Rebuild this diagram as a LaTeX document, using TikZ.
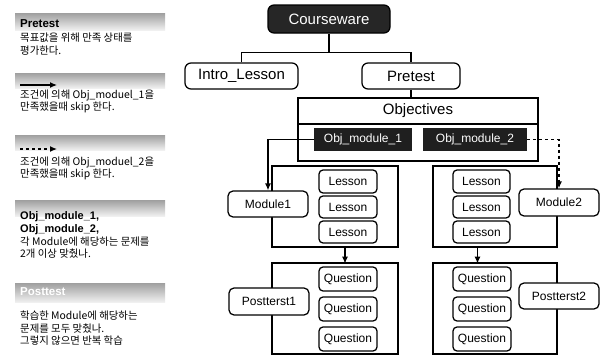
\documentclass[tikz,border=0pt]{standalone}
\usepackage{fontspec}
\setmainfont{Liberation Sans}
\newfontfamily\kr{Noto Sans CJK KR}
\usetikzlibrary{arrows.meta}
\begin{document}
\begin{tikzpicture}[x=1pt,y=-1pt,
  lw/.style={line width=1.25pt},
  arr/.style={lw,-{Latex[length=7pt,width=6pt]}},
  bignode/.style={draw,lw,rounded corners=6pt,fill=white,inner sep=0pt,font=\fontsize{15}{18}\selectfont},
  sqbox/.style={draw,lw,fill=white,inner sep=0pt},
  darkbox/.style={fill=black!88,text=white,inner sep=0pt,font=\fontsize{12}{14}\selectfont},
  midnode/.style={draw,lw,rounded corners=5pt,fill=white,inner sep=0pt,font=\fontsize{12}{14}\selectfont},
  smallnode/.style={draw,lw,rounded corners=4pt,fill=white,inner sep=0pt,font=\fontsize{12}{14}\selectfont,minimum width=58pt},
  kt/.style={anchor=west,inner sep=0pt,font=\kr\fontsize{10.4}{12}\selectfont},
  lt/.style={anchor=west,inner sep=0pt,font=\bfseries\fontsize{11.5}{13}\selectfont},
  band/.style={top color=gray!75,bottom color=gray!12}
]
\useasboundingbox (0,0) rectangle (606,356);

% ---------- legend ----------
\shade[band] (15,13) rectangle (165,30);
\node[lt] (lgpre) at (20,24) {Pretest};
\node[kt] (lg1a) at (20,38) {목표값을 위해 만족 상태를};
\node[kt] (lg1b) at (20,51) {평가한다.};

\shade[band] (15,73) rectangle (165,88);
\coordinate (la1) at (20,85);
\coordinate (la2) at (57,85);
\draw[arr] (la1) -- (la2);
\node[kt] (lg2a) at (20,95) {조건에 의해 Obj\_moduel\_1을};
\node[kt] (lg2b) at (20,107) {만족했을때 skip 한다.};

\shade[band] (15,135) rectangle (165,150);
\coordinate (lb1) at (20,149);
\coordinate (lb2) at (57,149);
\draw[arr,dashed] (lb1) -- (lb2);
\node[kt] (lg3a) at (20,162) {조건에 의해 Obj\_moduel\_2을};
\node[kt] (lg3b) at (20,174) {만족했을때 skip 한다.};

\shade[band] (15,200) rectangle (165,216);
\node[lt,font=\bfseries\fontsize{11}{13}\selectfont] (lg4a) at (20,217) {Obj\_module\_1,};
\node[lt,font=\bfseries\fontsize{11}{13}\selectfont] (lg4b) at (20,230) {Obj\_module\_2,};
\node[kt] (lg4c) at (20,242) {각 Module에 해당하는 문제를};
\node[kt] (lg4d) at (20,254) {2개 이상 맞췄나.};

\shade[band] (15,283) rectangle (165,302);
\node[lt,text=white] (lgpost) at (20,292) {Posttest};
\node[kt] (lg5a) at (20,316) {학습한 Module에 해당하는};
\node[kt] (lg5b) at (20,329) {문제를 모두 맞췄나.};
\node[kt] (lg5c) at (20,341) {그렇지 않으면 반복 학습};

% ---------- tree ----------
\node[bignode,fill=black!85,text=white,minimum width=122pt,minimum height=28pt] (cw) at (329,19) {Courseware};
\node[bignode,minimum width=113pt,minimum height=26pt] (intro) at (241.5,76) {Intro\_Lesson};
\node[bignode,minimum width=98pt,minimum height=26pt] (pre) at (411,76) {Pretest};

\path (cw.south) ++(0,19) coordinate (hub);
\draw[lw] (cw.south) -- (hub);
\draw[lw] (intro.north) |- (hub) -| (pre.north);

\node[sqbox,minimum width=240pt,minimum height=63pt] (objbox) at (418,129.5) {};
\node[sqbox,minimum width=240pt,minimum height=26pt,font=\fontsize{15}{18}\selectfont] (objh) at (418,111) {Objectives};
\draw[lw] (pre.south) -- (objh.north -| pre.south);

\node[darkbox,minimum width=98pt,minimum height=23pt] (om1) at (363,139.5) {Obj\_module\_1};
\node[darkbox,minimum width=104pt,minimum height=23pt] (om2) at (475,139.5) {Obj\_module\_2};

% containers
\node[sqbox,minimum width=126pt,minimum height=81pt] (lbox1) at (335,206.5) {};
\node[sqbox,minimum width=124pt,minimum height=81pt] (lbox2) at (495,206.5) {};
\node[sqbox,minimum width=126pt,minimum height=91pt] (pbox1) at (335,308.5) {};
\node[sqbox,minimum width=124pt,minimum height=91pt] (pbox2) at (495,308.5) {};

\node[midnode,minimum width=80pt,minimum height=26pt] (mod1) at (268,204) {Module1};
\node[midnode,minimum width=80pt,minimum height=27pt] (mod2) at (559,202.5) {Module2};
\node[midnode,minimum width=80pt,minimum height=27pt] (pt1) at (269,301.5) {Postterst1};
\node[midnode,minimum width=80pt,minimum height=26pt] (pt2) at (559,296) {Postterst2};

\node[smallnode,minimum height=23pt] (l11) at (348,181.5) {Lesson};
\node[smallnode,minimum height=22pt] (l12) at (348,207) {Lesson};
\node[smallnode,minimum height=22pt] (l13) at (348,232) {Lesson};
\node[smallnode,minimum width=57pt,minimum height=23pt] (l21) at (481.5,181.5) {Lesson};
\node[smallnode,minimum width=57pt,minimum height=22pt] (l22) at (481.5,207) {Lesson};
\node[smallnode,minimum width=57pt,minimum height=22pt] (l23) at (481.5,232) {Lesson};

\node[smallnode,minimum height=24pt] (q11) at (348,279) {Question};
\node[smallnode,minimum height=24pt] (q12) at (348,309) {Question};
\node[smallnode,minimum height=24pt] (q13) at (348,339) {Question};
\node[smallnode,minimum height=24pt] (q21) at (482,279) {Question};
\node[smallnode,minimum height=24pt] (q22) at (482,309) {Question};
\node[smallnode,minimum height=24pt] (q23) at (482,339) {Question};

% connectors
\draw[arr] (om1.west) -| (mod1.north);
\draw[arr,dashed] (om2.east) -| (mod2.north);
\draw[arr] (lbox1.south -| l13.south) ++(-3,0) -- ++(0,16);
\draw[arr] (lbox2.south -| l23.south) ++(-4,0) -- ++(0,16);
\end{tikzpicture}
\end{document}
